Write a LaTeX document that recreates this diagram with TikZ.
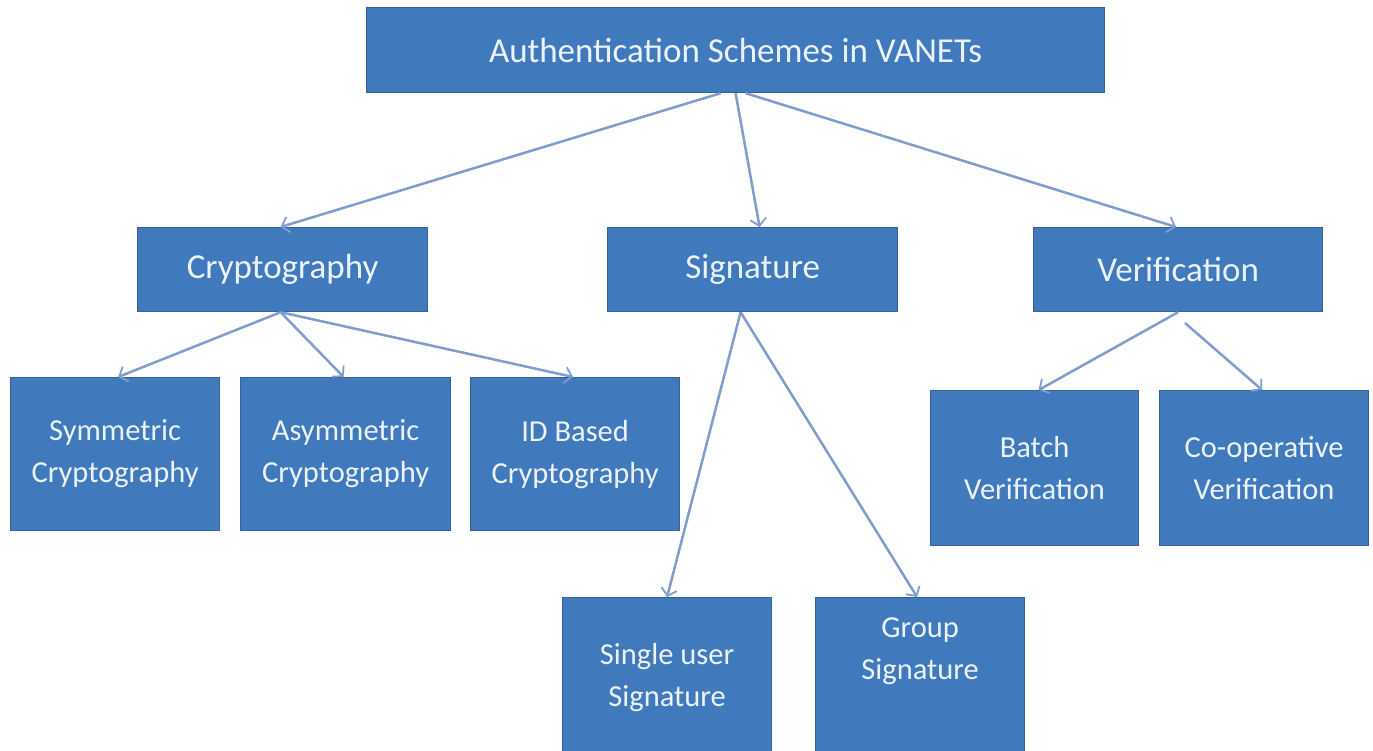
\documentclass[tikz,border=0pt]{standalone}
\usepackage{fontspec}
\setmainfont{Carlito}
\usetikzlibrary{arrows.meta}
\definecolor{boxfill}{RGB}{64,122,189}
\definecolor{boxline}{RGB}{52,98,156}
\definecolor{linkcol}{RGB}{128,158,205}
\definecolor{txtcol}{RGB}{236,242,250}
\tikzset{
  blk/.style={draw=boxline, line width=1.2pt, fill=boxfill, text=txtcol,
    font=\fontsize{35}{41}\selectfont, align=center, inner sep=0pt, anchor=north west},
  leaf/.style={blk, font=\fontsize{30.5}{42}\selectfont},
  link/.style={draw=linkcol, line width=2.5pt, -{Straight Barb[length=7pt,width=16pt,line width=1.8pt]}}
}
\begin{document}
\begin{tikzpicture}[x=1pt,y=-1pt]
\useasboundingbox (0,0) rectangle (1373,750);
% top
\node[blk, minimum width=738pt, minimum height=85pt] (top) at (366,7) {Authentication Schemes in VANETs};
% level 2
\node[blk, minimum width=290pt, minimum height=84pt] (cry) at (137,227) {Cryptography};
\node[blk, minimum width=290pt, minimum height=84pt] (sig) at (607,227) {Signature};
\node[blk, minimum width=289pt, minimum height=84pt] (ver) at (1033,227) {Verification};
% level 3
\node[leaf, minimum width=209pt, minimum height=153pt] (sym) at (10,377) {Symmetric\\Cryptography};
\node[leaf, minimum width=210pt, minimum height=153pt] (asy) at (240,377) {Asymmetric\\Cryptography};
\node[leaf, minimum width=209pt, minimum height=153pt] (idb) at (470,377) {ID Based\\Cryptography};
\node[leaf, minimum width=208pt, minimum height=155pt] (bat) at (930,390) {Batch\\Verification};
\node[leaf, minimum width=209pt, minimum height=155pt] (coo) at (1159,390) {Co-operative\\Verification};
\node[leaf, minimum width=209pt, minimum height=160pt, text depth=5pt] (sin) at (562,597) {Single user\\Signature};
\node[leaf, minimum width=209pt, minimum height=160pt, text depth=58pt] (grp) at (815,597) {Group\\Signature};
% helper coordinates
\coordinate (vs) at (1185,323);
% links
\draw[link] ([xshift=-15pt]top.south) -- ([xshift=-2pt]cry.north);
\draw[link] (top.south) -- ([xshift=7pt]sig.north);
\draw[link] ([xshift=10pt]top.south) -- ([xshift=-2pt]ver.north);
\draw[link] ([xshift=-2pt]cry.south) -- ([xshift=3pt]sym.north);
\draw[link] ([xshift=-2pt]cry.south) -- ([xshift=-2pt]asy.north);
\draw[link] ([xshift=-2pt]cry.south) -- ([xshift=-2pt]idb.north);
\draw[link] ([xshift=-12pt]sig.south) -- ([xshift=0pt]sin.north);
\draw[link] ([xshift=-12pt]sig.south) -- ([xshift=-3pt]grp.north);
\draw[link] ([xshift=0pt]ver.south) -- ([xshift=4pt]bat.north);
\draw[link] (vs) -- ([xshift=-2pt]coo.north);
\end{tikzpicture}
\end{document}
